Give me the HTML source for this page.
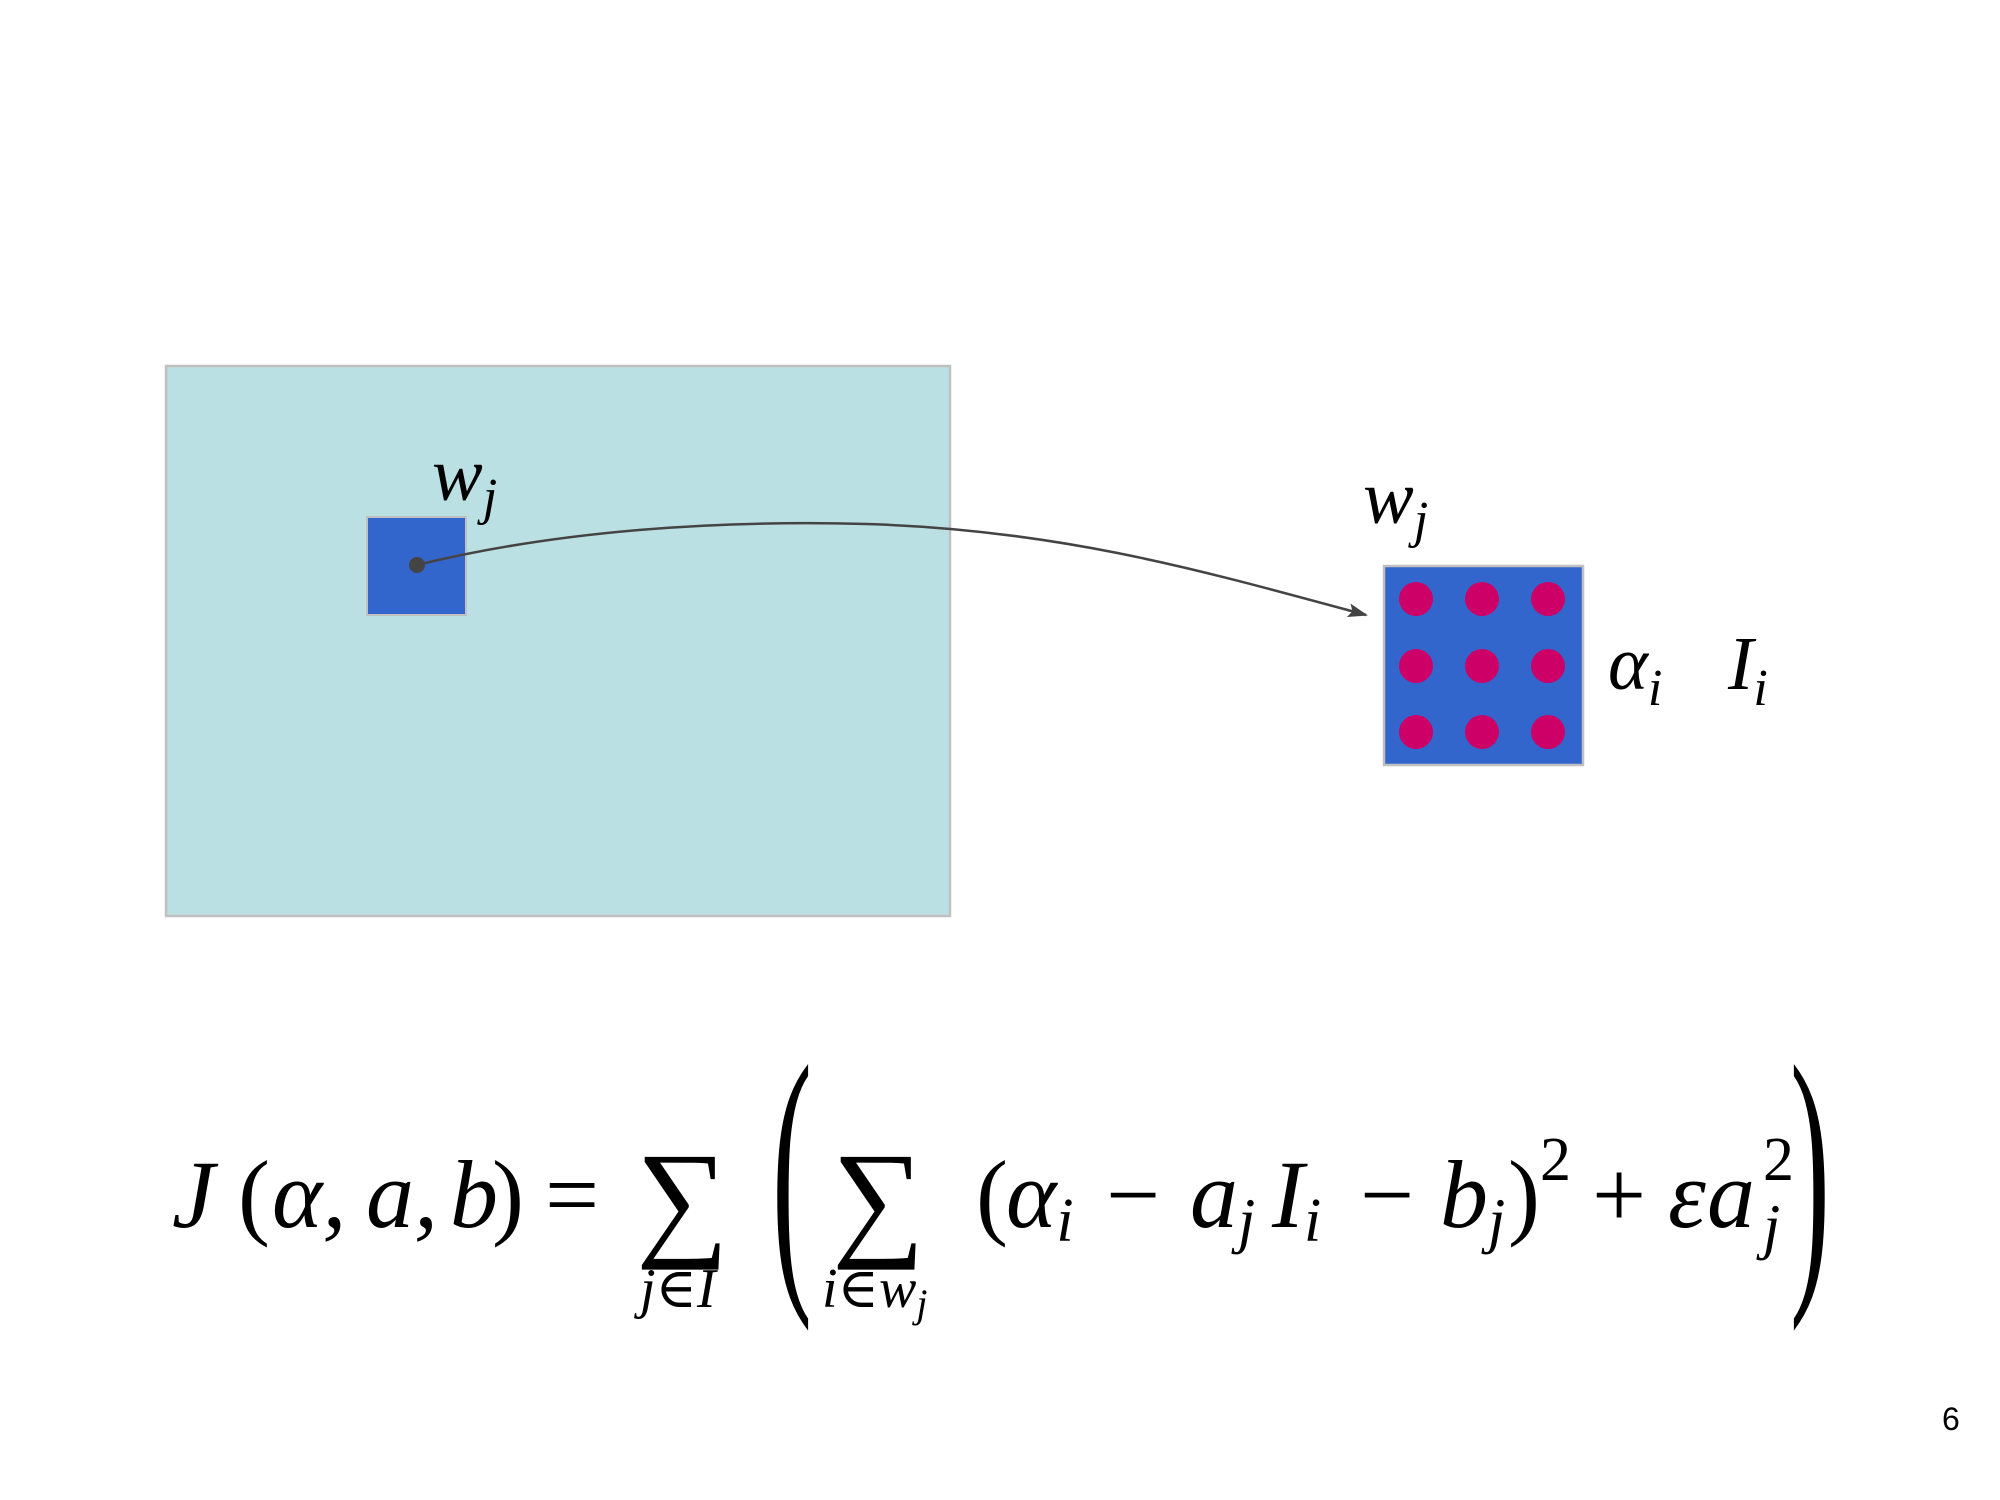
<!DOCTYPE html>
<html><head><meta charset="utf-8"><style>
html,body{margin:0;padding:0;background:#fff;}
svg{display:block;}
.m{font-family:"Liberation Serif","DejaVu Serif",serif;font-style:italic;fill:#000;}
.r{font-family:"Liberation Serif","DejaVu Serif",serif;fill:#000;}
</style></head><body>
<svg width="2000" height="1500" viewBox="0 0 2000 1500" xmlns="http://www.w3.org/2000/svg">
<defs><marker id="ah" markerWidth="20" markerHeight="14" refX="18" refY="7" orient="auto" markerUnits="userSpaceOnUse"><path d="M0,0 L20,7 L0,14 L4,7 z" fill="#444"/></marker></defs>
<rect x="166" y="366" width="784" height="550" fill="#bbe0e3" stroke="#c0c0c0" stroke-width="2.5"/>
<rect x="367" y="517" width="99" height="98" fill="#3366cc" stroke="#c0c0c0" stroke-width="2"/>
<circle cx="417" cy="565" r="8" fill="#444"/>
<path d="M417,565 C560,530 720,520 867,524 C1060,530 1200,570 1366,615" fill="none" stroke="#444" stroke-width="2.5" marker-end="url(#ah)"/>
<text class="m" x="432" y="500" font-size="76">w<tspan font-size="52" dy="14">j</tspan></text>
<rect x="1384" y="566" width="199" height="199" fill="#3366cc" stroke="#c0c0c0" stroke-width="2.5"/>
<g fill="#cc0066">
<circle cx="1416" cy="599" r="17"/><circle cx="1482" cy="599" r="17"/><circle cx="1548" cy="599" r="17"/>
<circle cx="1416" cy="666" r="17"/><circle cx="1482" cy="666" r="17"/><circle cx="1548" cy="666" r="17"/>
<circle cx="1416" cy="732" r="17"/><circle cx="1482" cy="732" r="17"/><circle cx="1548" cy="732" r="17"/>
</g>
<text class="m" x="1363" y="523" font-size="76">w<tspan font-size="52" dy="14">j</tspan></text>
<text class="m" x="1608" y="689" font-size="76">α<tspan font-size="52" dy="16">i</tspan></text>
<text class="m" x="1728" y="689" font-size="76">I<tspan font-size="52" dy="16">i</tspan></text>

<g>
<text class="m" x="172" y="1227" font-size="96">J</text>
<text class="r" x="238" y="1227" font-size="96">(</text>
<text class="m" x="272" y="1227" font-size="96">α,</text>
<text class="m" x="366" y="1227" font-size="96">a,</text>
<text class="m" x="450" y="1227" font-size="96">b</text>
<text class="r" x="492" y="1227" font-size="96">)</text>
<text class="r" x="545" y="1227" font-size="96">=</text>
<text class="r" x="636" y="1242" font-size="130">∑</text>
<text class="m" x="640" y="1307" font-size="56">j∈I</text>
<text class="r" font-size="120" transform="translate(772,1268) scale(1,2.45)">(</text>
<text class="r" x="832" y="1242" font-size="130">∑</text>
<text class="m" x="822" y="1307" font-size="56">i∈w<tspan font-size="40" dy="10">j</tspan></text>
<text class="r" x="976" y="1227" font-size="96">(</text>
<text class="m" x="1006" y="1227" font-size="96">α<tspan font-size="62" dy="14">i</tspan></text>
<text class="r" x="1106" y="1227" font-size="96">−</text>
<text class="m" x="1190" y="1227" font-size="96">a<tspan font-size="62" dy="14">j</tspan></text>
<text class="m" x="1272" y="1227" font-size="96">I<tspan font-size="62" dy="14">i</tspan></text>
<text class="r" x="1360" y="1227" font-size="96">−</text>
<text class="m" x="1440" y="1227" font-size="96">b<tspan font-size="62" dy="14">j</tspan></text>
<text class="r" x="1508" y="1227" font-size="96">)</text>
<text class="r" x="1540" y="1180" font-size="62">2</text>
<text class="r" x="1592" y="1227" font-size="96">+</text>
<text class="m" x="1668" y="1227" font-size="96">ε</text>
<text class="m" x="1707" y="1227" font-size="96">a</text>
<text class="r" x="1763" y="1180" font-size="62">2</text>
<text class="m" x="1763" y="1247" font-size="62">j</text>
<text class="r" font-size="120" transform="translate(1790,1268) scale(1,2.45)">)</text>
</g>
<text x="1942" y="1430" font-family="Liberation Sans, sans-serif" font-size="32" fill="#000">6</text>
</svg>
</body></html>
